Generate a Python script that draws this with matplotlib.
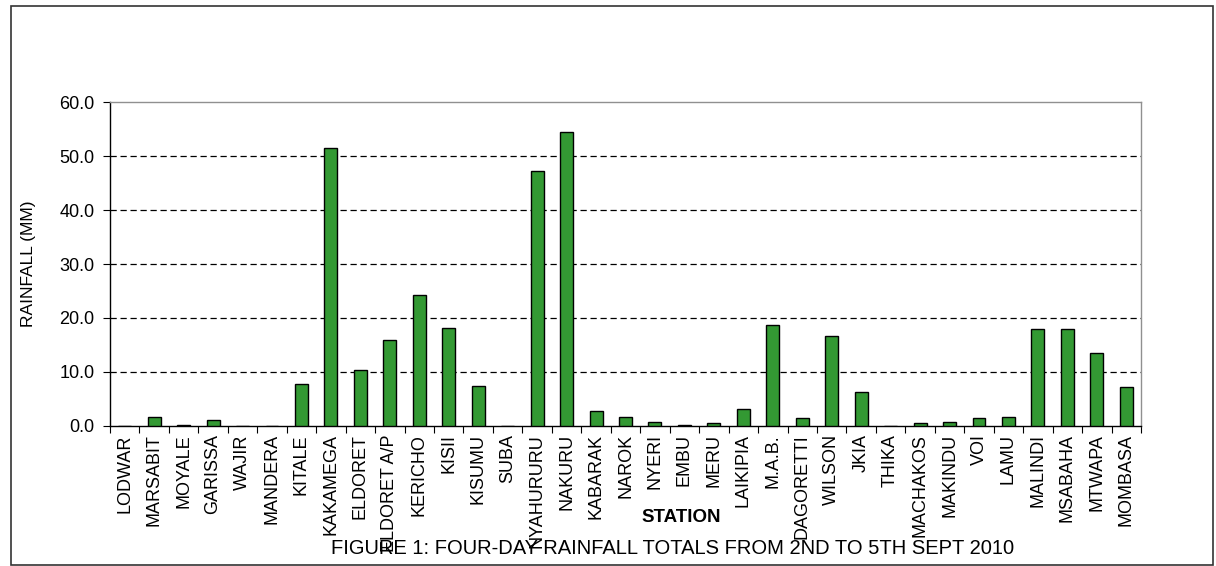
import matplotlib
matplotlib.use("Agg")
import matplotlib.pyplot as plt
from matplotlib.patches import Rectangle
import numpy as np

plt.rcParams['font.family'] = ['Liberation Sans', 'DejaVu Sans']

stations = ["LODWAR", "MARSABIT", "MOYALE", "GARISSA", "WAJIR", "MANDERA", "KITALE",
            "KAKAMEGA", "ELDORET", "ELDORET A/P", "KERICHO", "KISII", "KISUMU", "SUBA",
            "NYAHURURU", "NAKURU", "KABARAK", "NAROK", "NYERI", "EMBU", "MERU", "LAIKIPIA",
            "M.A.B.", "DAGORETTI", "WILSON", "JKIA", "THIKA", "MACHAKOS", "MAKINDU", "VOI",
            "LAMU", "MALINDI", "MSABAHA", "MTWAPA", "MOMBASA"]
rainfall = [0.0, 1.7, 0.2, 1.1, 0.0, 0.0, 7.8,
            51.4, 10.3, 15.9, 24.2, 18.1, 7.5, 0.0,
            47.3, 54.5, 2.8, 1.6, 0.8, 0.2, 0.5, 3.1,
            18.7, 1.4, 16.7, 6.3, 0.0, 0.5, 0.8, 1.4,
            1.7, 17.9, 17.9, 13.5, 7.2]
yticks = [0, 10, 20, 30, 40, 50, 60]

fig = plt.figure(figsize=(12.16, 5.66), dpi=100)
ax = fig.add_axes([110/1216, 1-426/566, (1141-110)/1216, (426-102)/566])

x = np.arange(len(stations))
ax.bar(x, rainfall, width=0.44, color='#339933', edgecolor='black', linewidth=1.0, zorder=3)

ax.set_xlim(-0.5, len(stations)-0.5)
ax.set_ylim(0, 60)
ax.set_yticks(yticks)
ax.set_yticklabels([f"{v:.1f}" for v in yticks], fontsize=13)
ax.set_xticks(x)
ax.set_xticklabels(stations, rotation=90, fontsize=13)
ax.tick_params(axis='x', length=0, pad=6)
ax.set_xticks(np.arange(-0.5, len(stations), 1.0), minor=True)
ax.tick_params(axis='x', which='minor', length=5, direction='out', width=0.8)
ax.tick_params(axis='y', length=5, direction='out', width=0.8, pad=6)

for y in yticks[1:-1]:
    ax.axhline(y, color='black', linewidth=0.9, linestyle=(0, (5, 3)), zorder=1)

ax.spines['left'].set_color('black')
ax.spines['bottom'].set_color('black')
ax.spines['top'].set_color('#909090')
ax.spines['right'].set_color('#909090')
for s in ax.spines.values():
    s.set_linewidth(1.0)

ax.set_ylabel("RAINFALL (MM)", fontsize=12.5)
ax.yaxis.set_label_coords(-(110-36)/1031, 0.5)

fig.text(681/1216, 1-517/566, "STATION", fontsize=13.5, fontweight='bold', ha='center', va='center')
fig.text(673/1216, 1-548/566, "FIGURE 1: FOUR-DAY RAINFALL TOTALS FROM 2ND TO 5TH SEPT 2010",
         fontsize=14.5, ha='center', va='center')

fig.patches.append(Rectangle((11/1216, 1-565/566), (1213-11)/1216, (565-6)/566,
                             transform=fig.transFigure, fill=False, edgecolor='#333333', linewidth=1.2))

fig.savefig("out.png", dpi=100)
